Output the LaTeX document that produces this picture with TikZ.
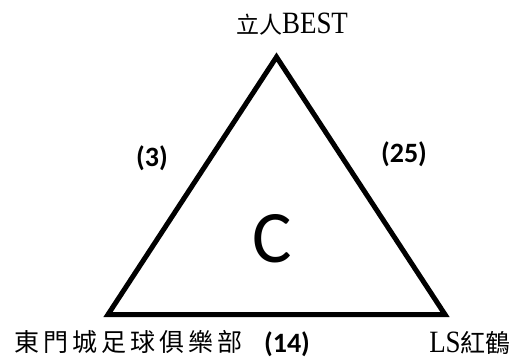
\documentclass[tikz,border=0pt]{standalone}
\usepackage{fontspec}
\newfontfamily\cjk{Noto Sans CJK TC}
\newfontfamily\ser[FakeStretch=0.87]{Liberation Serif}
\newfontfamily\calfont{Carlito}
\usetikzlibrary{positioning}
\newcommand{\teamfont}{\fontsize{25}{30}\selectfont}
\newcommand{\latinfont}{\ser\fontsize{31}{34}\selectfont}

\begin{document}
\begin{tikzpicture}[x=1pt, y=-1pt,
		edge/.style = {draw, line width=5pt, line join=miter},
		team/.style = {inner sep=0pt, font=\teamfont},
		score/.style = {inner sep=0pt, font=\calfont\bfseries\fontsize{28}{32}\selectfont}]
	\useasboundingbox (0,0) rectangle (519,358);
	\coordinate (top) at (276.5,57);
	\coordinate (left) at (108,314.5);
	\coordinate (right) at (445,314.5);
	\draw[edge] (top) -- (left) -- (right) -- cycle;
	\node[team] (best) at (292,24) {{\cjk\fontsize{23}{28}\selectfont 立人}{\latinfont BEST}};
	\node[team] (dongmen) at (128,341.5) {\cjk\addfontfeature{LetterSpace=16}東門城足球俱樂部\addfontfeature{LetterSpace=0}};
	\node[team] (ls) at (470,343) {{\latinfont LS}{\cjk\addfontfeature{LetterSpace=16}紅\addfontfeature{LetterSpace=0}鶴}};
	\node[score] (s3) at (152,158) {(3)};
	\node[score] (s25) at (404,154) {(25)};
	\node[score] (s14) at (287,344) {(14)};
	\node[inner sep=0pt, font=\calfont\fontsize{74}{80}\selectfont] (group) at (272,239) {C};
\end{tikzpicture}
\end{document}
